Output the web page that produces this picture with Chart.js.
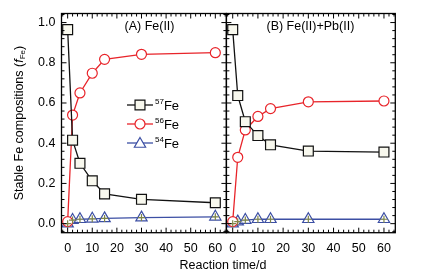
<!DOCTYPE html>
<html>
<head>
<meta charset="utf-8">
<script src="https://cdn.jsdelivr.net/npm/chart.js@4/dist/chart.umd.min.js"></script>
<style>
  body { margin: 0; background: #fff; }
  canvas { display: block; }
</style>
</head>
<body>
<canvas id="chart" width="428" height="276"></canvas>
<script>
// reaction time (days) and isotope fractions
const days = [0, 2, 5, 10, 15, 30, 60];
const fe57A = [0.965, 0.415, 0.30, 0.213, 0.148, 0.121, 0.104];
const fe56A = [0.01, 0.54, 0.65, 0.748, 0.817, 0.842, 0.85];
const fe54A = [0.0, 0.018, 0.022, 0.024, 0.026, 0.03, 0.034];
const fe57B = [0.965, 0.637, 0.507, 0.438, 0.392, 0.361, 0.356];
const fe56B = [0.01, 0.33, 0.466, 0.533, 0.572, 0.606, 0.61];
const fe54B = [0.0, 0.01, 0.018, 0.022, 0.022, 0.022, 0.022];
const panelTitles = ['(A) Fe(II)', '(B) Fe(II)+Pb(II)'];
const isotopes = ['57', '56', '54'];
const yTicks = [0, 0.2, 0.4, 0.6, 0.8, 1.0];

const FONT = '"Liberation Sans", Arial, sans-serif';
const BLACK = '#111', RED = '#e8242a', BLUE = '#3c4fa4', OLIVE = '#7f8647';

const pts = (ys) => days.map((d, i) => ({ x: d, y: ys[i] }));

function series(ys, xid, color, style, r, fill) {
  return {
    data: pts(ys), xAxisID: xid, yAxisID: 'y',
    borderColor: color, borderWidth: 1.3,
    pointStyle: style, pointRadius: r, pointBorderWidth: 1.2,
    pointBackgroundColor: fill, pointBorderColor: color,
    tension: 0
  };
}
function errMarks(ys, xid) {
  return {
    data: pts(ys), xAxisID: xid, yAxisID: 'y', showLine: false,
    pointStyle: 'cross', pointRadius: 3.5, pointBorderWidth: 1.2,
    pointBorderColor: OLIVE, borderColor: OLIVE
  };
}

function line(ctx, x1, y1, x2, y2) {
  ctx.beginPath(); ctx.moveTo(x1, y1); ctx.lineTo(x2, y2); ctx.stroke();
}

function marker(ctx, style, x, y, r, color, fill) {
  ctx.save();
  ctx.strokeStyle = color; ctx.fillStyle = fill; ctx.lineWidth = 1.2;
  ctx.beginPath();
  if (style === 'rect') {
    const s = r / Math.SQRT2;
    ctx.rect(x - s, y - s, 2 * s, 2 * s);
  } else if (style === 'circle') {
    ctx.arc(x, y, r, 0, Math.PI * 2);
  } else {
    for (let k = 0; k < 3; k++) {
      const a = k * 2 * Math.PI / 3;
      const px = x + Math.sin(a) * r, py = y - Math.cos(a) * r;
      k ? ctx.lineTo(px, py) : ctx.moveTo(px, py);
    }
    ctx.closePath();
  }
  ctx.fill(); ctx.stroke();
  ctx.restore();
}

const decorations = {
  id: 'decorations',
  afterDraw(chart) {
    const ctx = chart.ctx;
    const ys = chart.scales.y;
    const top = chart.chartArea.top, bottom = chart.chartArea.bottom;
    ctx.save();
    ctx.strokeStyle = '#000';
    ctx.lineWidth = 1.3;
    ['xA', 'xB'].forEach((id, p) => {
      const s = chart.scales[id];
      ctx.strokeRect(s.left, top, s.right - s.left, bottom - top);
      ctx.lineWidth = 1;
      for (let k = Math.ceil(s.min / 2); k <= Math.floor(s.max / 2); k++) {
        const px = s.getPixelForValue(k * 2);
        const len = k % 5 === 0 ? 5 : 3;
        line(ctx, px, bottom, px, bottom - len);
        line(ctx, px, top, px, top + len);
      }
      for (let k = Math.ceil(ys.min / 0.04); k <= Math.floor(ys.max / 0.04); k++) {
        const py = ys.getPixelForValue(k * 0.04);
        const len = k % 5 === 0 ? 5 : 3;
        line(ctx, s.left, py, s.left + len, py);
        line(ctx, s.right, py, s.right - len, py);
      }
      ctx.lineWidth = 1.3;
      ctx.fillStyle = '#000';
      ctx.font = '12.5px ' + FONT;
      ctx.textAlign = 'center';
      ctx.textBaseline = 'middle';
      ctx.fillText(panelTitles[p], s.left + (p ? 84 : 88), 27);
    });

    // x axis title
    ctx.font = '12.5px ' + FONT;
    ctx.textAlign = 'center';
    ctx.textBaseline = 'middle';
    ctx.fillText('Reaction time/d', 223, 266);

    // y axis title with italic f and subscript Fe
    ctx.save();
    ctx.translate(20, (top + bottom) / 2);
    ctx.rotate(-Math.PI / 2);
    ctx.textAlign = 'left';
    ctx.textBaseline = 'middle';
    const parts = [
      ['Stable Fe compositions (', '12.5px ' + FONT, 0],
      ['f', 'italic 12.5px ' + FONT, 0],
      ['Fe', '8px ' + FONT, 3],
      [')', '12.5px ' + FONT, 0]
    ];
    let w = 0;
    parts.forEach(([t, f]) => { ctx.font = f; w += ctx.measureText(t).width; });
    let x = -w / 2;
    parts.forEach(([t, f, dy]) => {
      ctx.font = f; ctx.fillText(t, x, dy); x += ctx.measureText(t).width;
    });
    ctx.restore();

    // legend inside panel A
    const styles = [['rect', 7, BLACK, '#f8f8ee'], ['circle', 5, RED, '#fff'], ['triangle', 6.5, BLUE, '#fff']];
    const lx = 127, rows = [105, 124, 143];
    styles.forEach(([st, r, c, f], i) => {
      const y = rows[i];
      ctx.strokeStyle = c; ctx.lineWidth = 1.3;
      line(ctx, lx, y, lx + 26, y);
      marker(ctx, st, lx + 13, y + (st === 'triangle' ? 1 : 0), r, c, f);
      ctx.fillStyle = '#000';
      ctx.textAlign = 'left';
      ctx.textBaseline = 'alphabetic';
      ctx.font = '8px ' + FONT;
      ctx.fillText(isotopes[i], lx + 28, y - 1);
      const sw = ctx.measureText(isotopes[i]).width;
      ctx.font = '13px ' + FONT;
      ctx.fillText('Fe', lx + 28 + sw, y + 5);
    });
    ctx.restore();
  }
};

function xScale(weight) {
  return {
    type: 'linear', position: 'bottom', stack: 'time', stackWeight: weight,
    min: -2.5, max: 64.5,
    grid: { display: false, drawTicks: false }, border: { display: false },
    ticks: {
      stepSize: 10, includeBounds: false, autoSkip: false, maxRotation: 0,
      padding: 8, color: '#000', font: { family: FONT, size: 12.5 }
    },
    afterFit: (s) => { s.height = 43.3; }
  };
}

const config = {
  type: 'line',
  data: {
    datasets: [
      errMarks(fe54A, 'xA'),
      errMarks(fe54B, 'xB'),
      series(fe57A, 'xA', BLACK, 'rect', 7, '#f8f8ee'),
      series(fe56A, 'xA', RED, 'circle', 5, '#fff'),
      series(fe54A, 'xA', BLUE, 'triangle', 6.5, 'rgba(255,255,255,0.6)'),
      series(fe57B, 'xB', BLACK, 'rect', 7, '#f8f8ee'),
      series(fe56B, 'xB', RED, 'circle', 5, '#fff'),
      series(fe54B, 'xB', BLUE, 'triangle', 6.5, 'rgba(255,255,255,0.6)')
    ]
  },
  options: {
    responsive: false,
    animation: false,
    layout: { padding: { left: 0, right: 32.7, top: 9, bottom: 0 } },
    plugins: { legend: { display: false }, tooltip: { enabled: false } },
    scales: {
      xA: xScale(165),
      xB: xScale(169),
      y: {
        type: 'linear', position: 'left',
        min: -0.045, max: 1.045,
        grid: { display: false, drawTicks: false }, border: { display: false },
        afterBuildTicks: (s) => { s.ticks = yTicks.map(v => ({ value: v })); },
        ticks: {
          padding: 6, color: '#000', font: { family: FONT, size: 12.5 },
          callback: (v) => v.toFixed(1)
        },
        afterFit: (s) => { s.width = 61.5; }
      }
    }
  },
  plugins: [decorations]
};

new Chart(document.getElementById('chart'), config);
</script>
</body>
</html>
